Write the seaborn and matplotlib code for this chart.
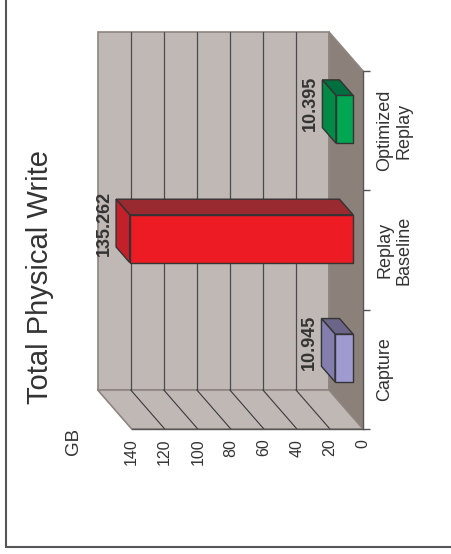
import matplotlib
matplotlib.use('Agg')
import matplotlib.pyplot as plt
from matplotlib.patches import Polygon
from matplotlib.lines import Line2D
import seaborn as sns
import pandas as pd

categories = ['Capture', 'Replay\nBaseline', 'Optimized\nReplay']
values = [10.945, 135.262, 10.395]
value_labels = ['10.945', '135.262', '10.395']
front_colors = ['#9f9bd0', '#ed1c24', '#00a651']
end_colors = ['#837eae', '#c3202a', '#008a45']
side_colors = ['#6b6587', '#982a30', '#006f3f']
value_ticks = [0, 20, 40, 60, 80, 100, 120, 140]

sns.set_style('white')
plt.rcParams['font.family'] = ['Liberation Sans', 'DejaVu Sans']

W, H = 451, 554
fig = plt.figure(figsize=(W / 100, H / 100), dpi=100)
ax = fig.add_axes([131.7 / W, 125 / H, 231.3 / W, 358 / H])
ax.set_facecolor('none')

df = pd.DataFrame({'cat': categories, 'gb': values})
sns.barplot(data=df, x='gb', y='cat', hue='cat', palette=front_colors,
            orient='h', width=0.4, saturation=1, legend=False, ax=ax,
            edgecolor='#333333', linewidth=1)
bars = list(ax.patches)

ax.set_xlim(140, 0)
ax.set_ylim(-0.5, 2.5)

# depth offset (front plane -> back wall) in data units
DV, DC = 20.58, 0.327
D0, D1 = 0.29, 0.69


def pt(v, c, d):
    return (v + DV * d, c + DC * d)


wall = '#c0b8b5'
floor = '#8c807b'
wall_edge = '#8e8480'
vmax = value_ticks[-1]

# back wall, floor (value 0) and side wall (first category edge)
back = [pt(0, -0.5, 1), pt(vmax, -0.5, 1), pt(vmax, 2.5, 1), pt(0, 2.5, 1)]
base = [pt(0, -0.5, 0), pt(0, 2.5, 0), pt(0, 2.5, 1), pt(0, -0.5, 1)]
side = [pt(0, -0.5, 0), pt(vmax, -0.5, 0), pt(vmax, -0.5, 1), pt(0, -0.5, 1)]
for poly, fc in [(back, wall), (base, floor), (side, wall)]:
    ax.add_patch(Polygon(poly, closed=True, facecolor=fc, edgecolor=wall_edge,
                         lw=1.2, clip_on=False, zorder=1))

for v in value_ticks[1:-1]:
    x0, y0 = pt(v, -0.5, 1)
    x1, y1 = pt(v, 2.5, 1)
    ax.plot([x0, x1], [y0, y1], color='#4a4a4a', lw=0.9, clip_on=False, zorder=2)
    x2, y2 = pt(v, -0.5, 0)
    ax.plot([x0, x2], [y0, y2], color='#3a3a3a', lw=0.8, clip_on=False, zorder=2)

# 3D bars built on the seaborn rectangles
for p, ec, sc, lab in zip(bars, end_colors, side_colors, value_labels):
    v = p.get_width()
    lo = p.get_y()
    hi = lo + p.get_height()
    c = (lo + hi) / 2
    sideface = [pt(0, hi, D0), pt(v, hi, D0), pt(v, hi, D1), pt(0, hi, D1)]
    endface = [pt(v, lo, D0), pt(v, hi, D0), pt(v, hi, D1), pt(v, lo, D1)]
    ax.add_patch(Polygon(sideface, closed=True, facecolor=sc, edgecolor='#333333',
                         lw=1, clip_on=False, zorder=4))
    ax.add_patch(Polygon(endface, closed=True, facecolor=ec, edgecolor='#333333',
                         lw=1, clip_on=False, zorder=4))
    p.set_x(p.get_x() + DV * D0)
    p.set_y(lo + DC * D0)
    p.set_zorder(5)
    p.set_clip_on(False)
    lx, ly = pt(v, c, D1)
    ax.annotate(lab, (lx, ly), xytext=(-2.5, 0), textcoords='offset points',
                rotation=90, ha='right', va='center', fontsize=13,
                fontweight='bold', color='#333333', annotation_clip=False,
                zorder=6)

# axes
for s in ['left', 'top']:
    ax.spines[s].set_visible(False)
for s in ['bottom', 'right']:
    ax.spines[s].set_color('#555555')
    ax.spines[s].set_linewidth(1)
    ax.spines[s].set_zorder(3)

ax.set_xticks(value_ticks)
ax.set_xticklabels([str(t) for t in value_ticks])
ax.tick_params(axis='x', direction='out', length=3, width=1, color='#555555',
               pad=4, labelsize=11.5, labelrotation=90, labelcolor='#333333')

ax.yaxis.tick_right()
ax.set_yticks([-0.5, 0.5, 1.5, 2.5])
ax.set_yticklabels([])
ax.set_yticks([0, 1, 2], minor=True)
ax.set_yticklabels(categories, minor=True)
ax.tick_params(axis='y', which='major', direction='out', length=5, width=1,
               color='#555555', left=False, right=True)
ax.tick_params(axis='y', which='minor', length=0, pad=9.5, labelsize=13,
               labelrotation=90, labelcolor='#333333', left=False, right=True)
for lbl in ax.get_yticklabels(minor=True):
    lbl.set_multialignment('center')
    lbl.set_va('center')
ax.set_xlabel('')
ax.set_ylabel('')

fig.text(40 / W, 1 - 277 / H, 'Total Physical Write', rotation=90,
         ha='center', va='center', fontsize=21, color='#333333')
fig.text(73.5 / W, 1 - 441.5 / H, 'GB', rotation=90, ha='center',
         va='center', fontsize=13.5, color='#333333')

# frame
fig.add_artist(Line2D([6 / W, 6 / W], [1, 1 - 547 / H], transform=fig.transFigure,
                      color='#55555a', lw=1.5))
fig.add_artist(Line2D([6 / W, 1], [1 - 547 / H, 1 - 547 / H],
                      transform=fig.transFigure, color='#55555a', lw=1.5))

fig.savefig('out.png', dpi=100)
